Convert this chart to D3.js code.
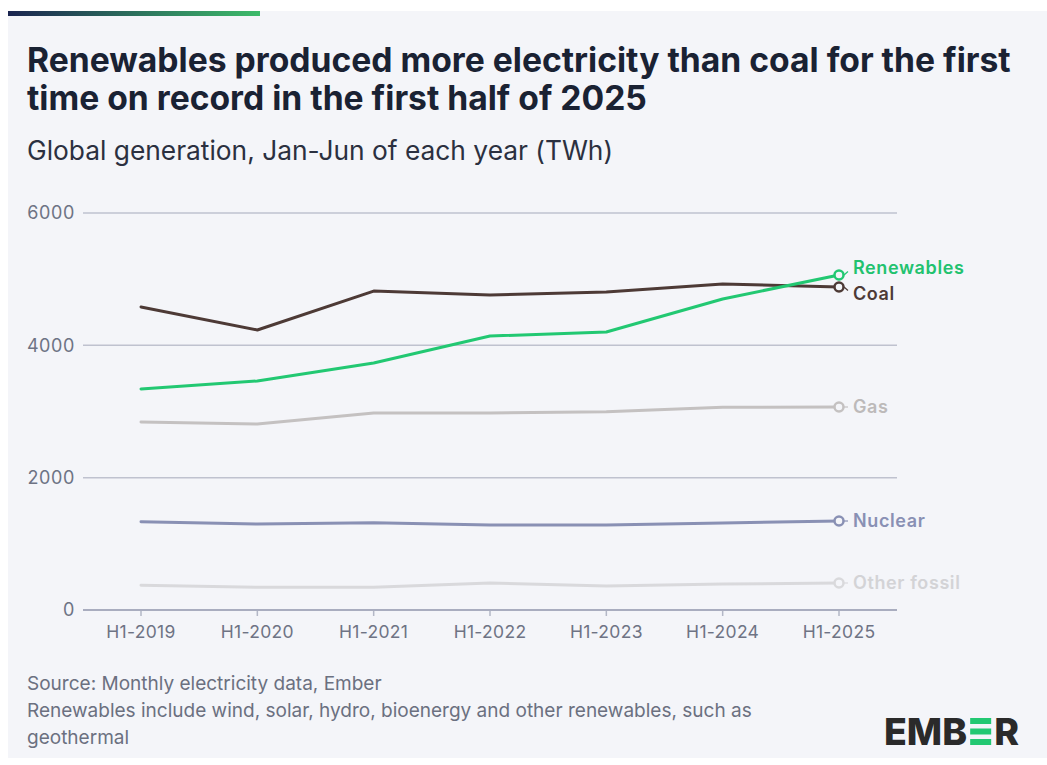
<!DOCTYPE html>
<html>
<head>
<meta charset="utf-8">
<script src="https://cdn.jsdelivr.net/npm/d3@7/dist/d3.min.js"></script>
<style>
  html, body { margin: 0; padding: 0; background: #ffffff; }
  svg { display: block; }
  text { font-family: Inter, "Open Sans", "Noto Sans", sans-serif; }
</style>
</head>
<body>
<svg id="chart" width="1047" height="765"></svg>
<script>
// Half-year periods shown on the x axis
const periods = ["H1-2019", "H1-2020", "H1-2021", "H1-2022", "H1-2023", "H1-2024", "H1-2025"];

// Global generation, Jan-Jun of each year (TWh)
const coal        = [4580, 4232, 4820, 4760, 4806, 4927, 4881];
const renewables  = [3340, 3461, 3733, 4141, 4201, 4700, 5063];
const gas         = [2841, 2811, 2977, 2977, 2997, 3063, 3068];
const nuclear     = [1334, 1300, 1320, 1285, 1285, 1315, 1345];
const otherFossil = [373, 343, 343, 408, 363, 393, 408];

const seriesNames = ["Other fossil", "Nuclear", "Gas", "Coal", "Renewables"];
const seriesValues = [otherFossil, nuclear, gas, coal, renewables];
const seriesColors = ["#d9d9dc", "#8990b4", "#c4c1c1", "#4d3a36", "#22c872"];
const labelColors  = ["#d3d3d6", "#8990b4", "#bdbaba", "#4d3a36", "#22c26f"];

const yTicks = [0, 2000, 4000, 6000];

const svg = d3.select("#chart");
const W = 1047, H = 765;

// Card background and accent bar
svg.append("rect").attr("x", 8).attr("y", 11).attr("width", W - 8).attr("height", 747).attr("fill", "#f4f5f9");
const grad = svg.append("defs").append("linearGradient").attr("id", "accent");
grad.append("stop").attr("offset", "0%").attr("stop-color", "#1b2550");
grad.append("stop").attr("offset", "100%").attr("stop-color", "#3dbb6a");
svg.append("rect").attr("x", 8).attr("y", 11).attr("width", 252).attr("height", 5).attr("fill", "url(#accent)");

// Fit a text element to a given width by adjusting its font size
function fitWidth(sel, target) {
  const node = sel.node();
  const fs = parseFloat(sel.attr("font-size"));
  const w = node.getComputedTextLength();
  sel.attr("font-size", (fs * target / w).toFixed(2));
}

const t1 = svg.append("text").attr("x", 27).attr("y", 72).attr("font-size", 29).attr("font-weight", 700)
  .attr("fill", "#1a2233").text("Renewables produced more electricity than coal for the first");
fitWidth(t1, 984);
svg.append("text").attr("x", 27).attr("y", 110).attr("font-size", t1.attr("font-size")).attr("font-weight", 700)
  .attr("fill", "#1a2233").text("time on record in the first half of 2025");

const sub = svg.append("text").attr("x", 27).attr("y", 160).attr("font-size", 22).attr("font-weight", 400)
  .attr("fill", "#2b3040").text("Global generation, Jan-Jun of each year (TWh)");
fitWidth(sub, 586);

// Scales
const x = d3.scalePoint().domain(periods).range([141, 839]);
const y = d3.scaleLinear().domain([0, 6000]).range([610, 213]);
const gridLeft = 83, gridRight = 897;

// Gridlines and y labels
const yAxis = svg.append("g");
yAxis.selectAll("line").data(yTicks).join("line")
  .attr("x1", gridLeft).attr("x2", gridRight)
  .attr("y1", d => y(d)).attr("y2", d => y(d))
  .attr("stroke", d => d === 0 ? "#a9adbf" : "#bfc2cf")
  .attr("stroke-width", d => d === 0 ? 2 : 1.5);
yAxis.selectAll("text").data(yTicks).join("text")
  .attr("x", 75).attr("y", d => y(d)).attr("dy", "0.35em")
  .attr("text-anchor", "end").attr("font-size", 18).attr("letter-spacing", 0.6).attr("fill", "#6e7384")
  .text(d => d);

// x axis ticks and labels
const xAxis = svg.append("g");
xAxis.selectAll("line").data(periods).join("line")
  .attr("x1", d => x(d)).attr("x2", d => x(d))
  .attr("y1", 611).attr("y2", 616)
  .attr("stroke", "#b3b7c6").attr("stroke-width", 1.5);
xAxis.selectAll("text").data(periods).join("text")
  .attr("x", d => x(d)).attr("y", 638)
  .attr("text-anchor", "middle").attr("font-size", 17.5).attr("letter-spacing", 0.3).attr("fill", "#6e7384")
  .text(d => d);

// Lines
const line = d3.line().x((d, i) => x(periods[i])).y(d => y(d));
const lines = svg.append("g");
seriesValues.forEach((vals, k) => {
  lines.append("path").datum(vals)
    .attr("d", line).attr("fill", "none")
    .attr("stroke", seriesColors[k]).attr("stroke-width", 3)
    .attr("stroke-linejoin", "round").attr("stroke-linecap", "round");
});

// End labels, spread apart so they do not overlap
const last = periods.length - 1;
const ends = seriesValues.map((vals, k) => ({ k, py: y(vals[last]), ly: y(vals[last]) }))
  .sort((a, b) => a.py - b.py);
const minGap = 26;
for (let i = 1; i < ends.length; i++) {
  if (ends[i].ly - ends[i - 1].ly < minGap) {
    const mid = (ends[i].ly + ends[i - 1].ly) / 2;
    ends[i - 1].ly = mid - minGap / 2;
    ends[i].ly = mid + minGap / 2;
  }
}

const labels = svg.append("g");
const cx = x(periods[last]);
ends.forEach(e => {
  const col = seriesColors[e.k];
  labels.append("line")
    .attr("x1", cx + 5).attr("y1", e.py)
    .attr("x2", cx + 9).attr("y2", e.py + (e.ly - e.py) * 0.5)
    .attr("stroke", col).attr("stroke-width", 1.2);
  labels.append("circle")
    .attr("cx", cx).attr("cy", e.py).attr("r", 4.5)
    .attr("fill", "#f4f5f9").attr("stroke", col).attr("stroke-width", 2.5);
  labels.append("text")
    .attr("x", cx + 14).attr("y", e.ly).attr("dy", "0.35em")
    .attr("font-size", 18).attr("font-weight", 600).attr("letter-spacing", 0.6)
    .attr("fill", labelColors[e.k]).text(seriesNames[e.k]);
});

// Footer notes
const notes = [
  "Source: Monthly electricity data, Ember",
  "Renewables include wind, solar, hydro, bioenergy and other renewables, such as",
  "geothermal"
];
const noteText = svg.append("g").selectAll("text").data(notes).join("text")
  .attr("x", 27).attr("y", (d, i) => 690 + i * 27)
  .attr("font-size", 17).attr("fill", "#6b7080")
  .text(d => d);
const noteSize = 17 * 725 / noteText.nodes()[1].getComputedTextLength();
noteText.attr("font-size", noteSize.toFixed(2));

// Logo: EMB + three green bars + R
const logo = svg.append("g").attr("transform", "translate(884,745)");
const emb = logo.append("text").attr("x", 0).attr("y", 0).attr("font-size", 37.5).attr("font-weight", 800)
  .attr("fill", "#2a2a2a").text("EMB");
const embW = emb.node().getComputedTextLength();
const barX = embW + 3, barW = 21, barH = 6;
[-27, -16.5, -6].forEach(by => {
  logo.append("rect").attr("x", barX).attr("y", by).attr("width", barW).attr("height", barH).attr("fill", "#22c872");
});
logo.append("text").attr("x", barX + barW + 3).attr("y", 0).attr("font-size", 37.5).attr("font-weight", 800)
  .attr("fill", "#2a2a2a").text("R");
</script>
</body>
</html>
